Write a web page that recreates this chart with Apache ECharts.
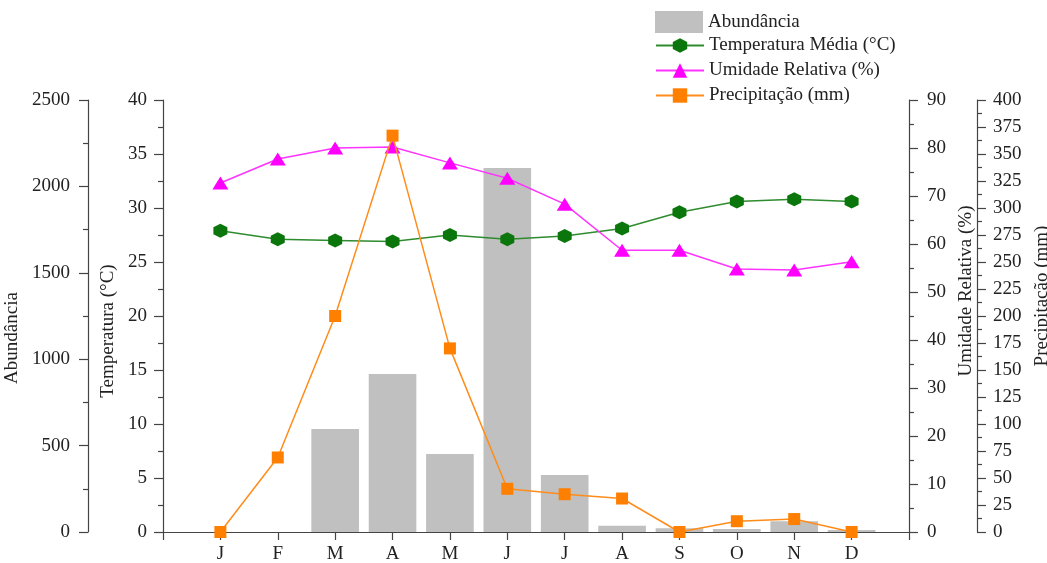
<!DOCTYPE html>
<html>
<head>
<meta charset="utf-8">
<script src="https://cdn.jsdelivr.net/npm/echarts@6/dist/echarts.min.js"></script>
<style>html,body{margin:0;padding:0;background:#fff}#c{width:1047px;height:563px}</style>
</head>
<body>
<div id="c"></div>
<script>
const months = ['J','F','M','A','M','J','J','A','S','O','N','D'];
const abundancia = [0, 0, 596, 914, 451, 2106, 330, 36, 22, 17, 62, 12];
const temperatura = [27.9, 27.1, 27.0, 26.9, 27.5, 27.1, 27.4, 28.1, 29.6, 30.6, 30.8, 30.6];
const umidade = [72.7, 77.7, 80.0, 80.2, 76.9, 73.7, 68.3, 58.7, 58.7, 54.8, 54.6, 56.3];
const precipitacao = [0, 69, 200, 367, 170, 40, 35, 31, 0, 10, 12, 0];

const pad = arr => [null].concat(arr, [null]);
const FONT = '"Liberation Serif", "Times New Roman", serif';
const FS = 19;
const TXT = '#222';
const AX = '#444';
const hexagon = 'path://M0,-1 L0.866,-0.5 L0.866,0.5 L0,1 L-0.866,0.5 L-0.866,-0.5 Z';

function yAx(opts, labelMargin, namePad) {
  return Object.assign({
    type: 'value',
    nameLocation: 'middle',
    nameTextStyle: { fontFamily: FONT, fontSize: FS, color: TXT, padding: namePad },
    axisLine: { show: true, lineStyle: { color: AX, width: 1.2 } },
    axisTick: { show: true, inside: false, length: 9, lineStyle: { color: AX, width: 1.2 } },
    minorTick: { show: true, splitNumber: 2, length: 5, lineStyle: { color: AX, width: 1.2 } },
    splitLine: { show: false },
    axisLabel: { fontFamily: FONT, fontSize: FS, color: TXT, margin: labelMargin, formatter: v => String(v) }
  }, opts);
}

const chart = echarts.init(document.getElementById('c'));
chart.setOption({
  animation: false,
  backgroundColor: '#fff',
  textStyle: { fontFamily: FONT },
  grid: { left: 163, right: 138, top: 100, bottom: 31, containLabel: false, outerBoundsMode: 'none' },
  legend: [{
    orient: 'vertical', left: 655, top: 11, padding: 0, itemWidth: 48, itemHeight: 22, itemGap: 2,
    icon: 'rect',
    data: ['Abundância'],
    textStyle: { fontFamily: FONT, fontSize: FS, color: TXT }
  }, {
    orient: 'vertical', left: 655, top: 36, padding: 0, itemWidth: 48, itemHeight: 18, itemGap: 6,
    data: ['Temperatura Média (°C)', 'Umidade Relativa (%)', 'Precipitação (mm)'],
    textStyle: { fontFamily: FONT, fontSize: FS, color: TXT, lineHeight: 18 }
  }],
  xAxis: {
    type: 'category',
    boundaryGap: false,
    data: pad(months).map(v => v === null ? '' : v),
    axisLine: { show: true, lineStyle: { color: AX, width: 1.2 } },
    axisTick: { show: true, interval: 0, length: 8, lineStyle: { color: AX, width: 1.2 } },
    axisLabel: { interval: 0, fontFamily: FONT, fontSize: FS, color: TXT, margin: 13 },
    splitLine: { show: false }
  },
  yAxis: [
    yAx({ position: 'left', offset: 0, min: 0, max: 40, interval: 5, name: 'Temperatura (°C)', nameGap: 44 }, 16, [0, 30, 0, 0]),
    yAx({ position: 'left', offset: 75, min: 0, max: 2500, interval: 500, name: 'Abundância', nameGap: 52 }, 18, [0, 44, 0, 0]),
    yAx({ position: 'right', offset: 0, min: 0, max: 90, interval: 10, name: 'Umidade Relativa (%)', nameGap: 38 }, 18, [0, 0, 0, 50]),
    yAx({ position: 'right', offset: 68, min: 0, max: 400, interval: 25, name: 'Precipitação (mm)', nameGap: 49 }, 16, [0, 0, 0, 40])
  ],
  series: [{
    name: 'Abundância', type: 'bar', yAxisIndex: 1, barWidth: '83%',
    itemStyle: { color: '#c0c0c0' },
    data: pad(abundancia), z: 1
  }, {
    name: 'Temperatura Média (°C)', type: 'line', yAxisIndex: 0,
    symbol: hexagon, symbolSize: 14, showAllSymbol: true,
    lineStyle: { color: '#2e8b2e', width: 1.5 },
    itemStyle: { color: '#0b760b' },
    data: pad(temperatura), z: 3
  }, {
    name: 'Umidade Relativa (%)', type: 'line', yAxisIndex: 2,
    symbol: 'triangle', symbolSize: [16, 13], showAllSymbol: true,
    lineStyle: { color: '#ff33ff', width: 1.5 },
    itemStyle: { color: '#ff00ff' },
    data: pad(umidade), z: 4
  }, {
    name: 'Precipitação (mm)', type: 'line', yAxisIndex: 3,
    symbol: 'rect', symbolSize: 12, showAllSymbol: true,
    lineStyle: { color: '#ff8c1a', width: 1.5 },
    itemStyle: { color: '#ff7f00' },
    data: pad(precipitacao), z: 5
  }]
});
</script>
</body>
</html>
